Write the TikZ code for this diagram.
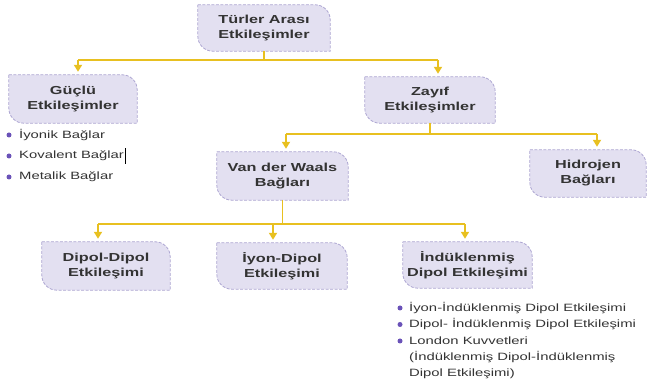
\documentclass[tikz,border=0pt]{standalone}
\usepackage{fontspec}
\setmainfont{Liberation Sans}[FakeStretch=1.4]
\usetikzlibrary{arrows.meta,backgrounds}
\definecolor{boxfill}{HTML}{E3E0F1}
\definecolor{boxdash}{HTML}{ADA6D2}
\definecolor{conncol}{HTML}{E8C020}
\definecolor{txtcol}{HTML}{333333}
\definecolor{bulcol}{HTML}{6A52B8}
\newcommand\lozbox[1]{%
  \draw[boxline] (#1.north west) -- ([xshift=-15pt]#1.north east)
    arc[start angle=90,end angle=0,radius=15pt] -- (#1.south east)
    -- ([xshift=15pt]#1.south west)
    arc[start angle=270,end angle=180,radius=15pt] -- cycle;}
\tikzset{
  lbox/.style={inner sep=0pt, align=center, text=txtcol,
    font=\bfseries\fontsize{11.6}{15}\selectfont},
  boxline/.style={fill=boxfill, draw=boxdash, line width=0.8pt,
    dash pattern=on 3pt off 1.5pt},
  conn/.style={draw=conncol, line width=1.7pt},
  arr/.style={conn, -{Triangle[width=8pt,length=7pt]}, shorten >=3pt},
  item/.style={anchor=west, inner sep=0pt, text=txtcol,
    font=\fontsize{10.6}{12}\selectfont},
  bul/.style={fill=bulcol}
}
\begin{document}
\begin{tikzpicture}[x=1pt,y=1pt]
\useasboundingbox (0,0) rectangle (651,382);
% boxes
\node[lbox, minimum width=132pt, minimum height=46pt] (top) at (264,354) {Türler Arası\\Etkileşimler};
\node[lbox, minimum width=128pt, minimum height=48pt] (guclu) at (73,283) {Güçlü\\Etkileşimler};
\node[lbox, minimum width=130pt, minimum height=46pt] (zayif) at (430,282) {Zayıf\\Etkileşimler};
\node[lbox, minimum width=131pt, minimum height=48pt] (vdw) at (282.5,206) {Van der Waals\\Bağları};
\node[lbox, minimum width=116pt, minimum height=47pt] (hid) at (588,208.5) {Hidrojen\\Bağları};
\node[lbox, minimum width=128pt, minimum height=48pt] (dipol) at (106,116) {Dipol-Dipol\\Etkileşimi};
\node[lbox, minimum width=130pt, minimum height=46pt] (iyon) at (282,116) {İyon-Dipol\\Etkileşimi};
\node[lbox, minimum width=129pt, minimum height=46pt] (induk) at (467.5,117) {İndüklenmiş\\Dipol Etkileşimi};
\begin{scope}[on background layer]
  \foreach \n in {top,guclu,zayif,vdw,hid,dipol,iyon,induk} {\lozbox{\n}}
\end{scope}
% connectors level 1
\coordinate (a1) at (78,322);
\coordinate (a2) at (438,322);
\draw[conn] (top.south) -- (top.south |- a1);
\draw[conn] (a1) -- (a2);
\draw[arr] (a1) -- (a1 |- guclu.north);
\draw[arr] (a2) -- (a2 |- zayif.north);
% level 2
\coordinate (b1) at (286,248);
\coordinate (b2) at (597,248);
\draw[conn] (zayif.south) -- (zayif.south |- b1);
\draw[conn] (b1) -- (b2);
\draw[arr] (b1) -- (b1 |- vdw.north);
\draw[arr] (b2) -- (b2 |- hid.north);
% level 3
\coordinate (c1) at (98,158);
\coordinate (c3) at (273,158);
\coordinate (c2) at (465,158);
\draw[conn] (vdw.south) -- (vdw.south |- c1);
\draw[conn] (c1) -- (c2);
\draw[arr] (c1) -- (c1 |- dipol.north);
\draw[arr] (c3) -- (c3 |- iyon.north);
\draw[arr] (c2) -- (c2 |- induk.north);
% left list
\node[item] (l1) at (19,247) {İyonik Bağlar};
\node[item] (l2) at (19,226) {Kovalent Bağlar};
\node[item] (l3) at (19,205) {Metalik Bağlar};
\foreach \n in {l1,l2,l3} {\fill[bul] ([xshift=-10pt]\n.west) circle (2.5pt);}
\draw[black, line width=0.8pt] ([xshift=1.5pt,yshift=-8pt]l2.east) -- ([xshift=1.5pt,yshift=8pt]l2.east);
% bottom list
\node[item] (r1) at (409,74) {İyon-İndüklenmiş Dipol Etkileşimi};
\node[item] (r2) at (409,57.5) {Dipol- İndüklenmiş Dipol Etkileşimi};
\node[item] (r3) at (409,41) {London Kuvvetleri};
\node[item] (r4) at (409,24.5) {(İndüklenmiş Dipol-İndüklenmiş};
\node[item] (r5) at (409,8) {Dipol Etkileşimi)};
\foreach \n in {r1,r2,r3} {\fill[bul] ([xshift=-9pt]\n.west) circle (2.5pt);}
\end{tikzpicture}
\end{document}
